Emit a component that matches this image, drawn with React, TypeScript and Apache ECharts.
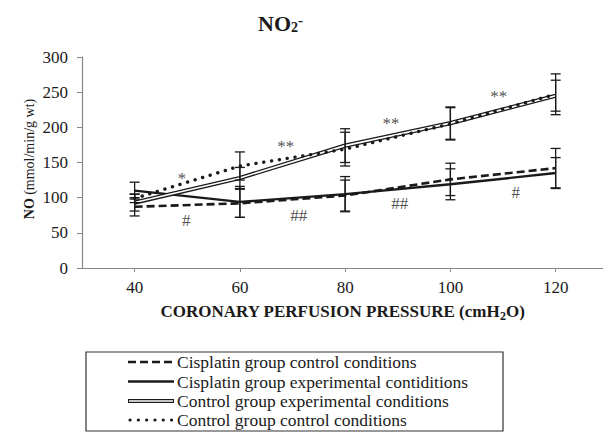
import React, { useEffect, useRef } from "react";
import * as echarts from "echarts";

const pressures = [40, 60, 80, 100, 120];
const xTickValues = [40, 60, 80, 100, 120];

const cisplatinControl = [87, 92, 103, 126, 142];
const cisplatinControlErr = [13, 20, 22, 23, 28];
const cisplatinExperimental = [110, 94, 105, 119, 135];
const cisplatinExperimentalErr = [12, 22, 25, 22, 22];
const controlExperimental = [93, 128, 174, 206, 245];
const controlExperimentalErr = [12, 15, 24, 23, 22];
const controlControl = [99, 145, 169, 205, 247];
const controlControlErr = [6, 20, 24, 23, 29];

const annotationX = [49, 68.7, 88.7, 109.2, 49.8, 71.2, 90.4, 112.4];
const annotationY = [127, 173, 206, 244, 68, 74, 92, 108];
const annotationText = ["*", "**", "**", "**", "#", "##", "##", "#"];

const legendLabels = [
  "Cisplatin group control conditions",
  "Cisplatin group experimental contiditions",
  "Control group experimental conditions",
  "Control group control conditions",
];

const FONT = "'Liberation Serif', 'Times New Roman', Times, serif";
const INK = "#1a1a1a";

function pairs(vals: number[]) {
  return pressures.map((p, i) => [p, vals[i]]);
}

function errData(vals: number[], errs: number[]) {
  return pressures.map((p, i) => [p, vals[i] - errs[i], vals[i] + errs[i]]);
}

export default function App() {
  const ref = useRef<HTMLDivElement>(null);

  useEffect(() => {
    if (!ref.current) return;
    const chart = echarts.init(ref.current, null, { renderer: "svg" });

    const errorSeries = (vals: number[], errs: number[]) => ({
      type: "custom",
      data: errData(vals, errs),
      z: 5,
      silent: true,
      renderItem: (params: any, api: any) => {
        const x = api.value(0);
        const lo = api.coord([x, api.value(1)]);
        const hi = api.coord([x, api.value(2)]);
        const w = 5;
        const st = { stroke: INK, lineWidth: 1.3 };
        return {
          type: "group",
          children: [
            { type: "line", shape: { x1: lo[0], y1: lo[1], x2: hi[0], y2: hi[1] }, style: st },
            { type: "line", shape: { x1: lo[0] - w, y1: lo[1], x2: lo[0] + w, y2: lo[1] }, style: st },
            { type: "line", shape: { x1: hi[0] - w, y1: hi[1], x2: hi[0] + w, y2: hi[1] }, style: st },
          ],
        };
      },
    });

    const lx1 = 128;
    const lx2 = 174;
    const rowY = [362, 381.5, 401, 420];
    const textX = 177;

    const legendGraphics: any[] = [
      {
        type: "rect",
        shape: { x: 86, y: 352, width: 417, height: 79 },
        style: { fill: "#fff", stroke: "#333", lineWidth: 1.2 },
      },
      {
        type: "line",
        shape: { x1: lx1, y1: rowY[0], x2: lx2, y2: rowY[0] },
        style: { stroke: INK, lineWidth: 2.5, lineDash: [8, 4] },
      },
      {
        type: "line",
        shape: { x1: lx1, y1: rowY[1], x2: lx2, y2: rowY[1] },
        style: { stroke: INK, lineWidth: 2.5 },
      },
      {
        type: "line",
        shape: { x1: lx1, y1: rowY[2], x2: lx2, y2: rowY[2] },
        style: { stroke: INK, lineWidth: 4.2 },
      },
      {
        type: "line",
        shape: { x1: lx1 + 1, y1: rowY[2], x2: lx2 - 1, y2: rowY[2] },
        style: { stroke: "#fff", lineWidth: 1.6 },
      },
      {
        type: "line",
        shape: { x1: lx1 + 2, y1: rowY[3], x2: lx2, y2: rowY[3] },
        style: { stroke: INK, lineWidth: 3.2, lineDash: [0.1, 8.2], lineCap: "round" },
      },
      ...legendLabels.map((t, i) => ({
        type: "text",
        x: textX,
        y: rowY[i],
        style: {
          text: t,
          fontFamily: FONT,
          fontSize: 17.5,
          fill: INK,
          align: "left",
          verticalAlign: "middle",
        },
      })),
      {
        type: "text",
        x: 29,
        y: 159,
        rotation: Math.PI / 2,
        style: {
          text: "{b|NO} {r|(mmol/min/g wt)}",
          align: "center",
          verticalAlign: "middle",
          rich: {
            b: { fontFamily: FONT, fontSize: 14, fontWeight: "bold", fill: INK },
            r: { fontFamily: FONT, fontSize: 14, fill: INK },
          },
        },
      },
    ];

    chart.setOption({
      animation: false,
      title: {
        text: "{a|NO}{b|2}{c|-}",
        left: 253,
        top: 7,
        textStyle: {
          rich: {
            a: { fontFamily: FONT, fontSize: 22, fontWeight: "bold", color: INK, lineHeight: 22, verticalAlign: "top" },
            b: { fontFamily: FONT, fontSize: 14, fontWeight: "bold", color: INK, lineHeight: 14, verticalAlign: "bottom", padding: [11, 0, 0, 0] },
            c: { fontFamily: FONT, fontSize: 15, fontWeight: "bold", color: INK, lineHeight: 15, verticalAlign: "top" },
          },
        },
      },
      grid: { left: 82, right: 0, top: 57, bottom: 164, containLabel: false },
      xAxis: {
        type: "value",
        min: 30,
        max: 129,
        name: "{b|CORONARY PERFUSION PRESSURE (cmH}{s|2}{b|O)}",
        nameLocation: "middle",
        nameGap: 35,
        nameTextStyle: {
          rich: {
            b: { fontFamily: FONT, fontSize: 17, fontWeight: "bold", color: INK, lineHeight: 19, verticalAlign: "top" },
            s: { fontFamily: FONT, fontSize: 12, fontWeight: "bold", color: INK, lineHeight: 12, verticalAlign: "bottom", padding: [9, 0, 0, 0] },
          },
        },
        axisLine: { lineStyle: { color: "#888", width: 1.2 } },
        axisTick: { show: true, length: 4, customValues: xTickValues, lineStyle: { color: "#888" } },
        axisLabel: { customValues: xTickValues, fontFamily: FONT, fontSize: 17, color: INK, margin: 11 },
        splitLine: { show: false },
      },
      yAxis: {
        type: "value",
        min: 0,
        max: 300,
        interval: 50,
        axisLine: { show: true, lineStyle: { color: "#888", width: 1.2 } },
        axisTick: { show: true, length: 5, lineStyle: { color: "#888" } },
        axisLabel: { fontFamily: FONT, fontSize: 17, color: INK, margin: 14 },
        splitLine: { show: false },
      },
      series: [
        {
          name: legendLabels[0],
          type: "line",
          data: pairs(cisplatinControl),
          symbol: "none",
          lineStyle: { color: INK, width: 2.6, type: [8, 4] },
          z: 3,
        },
        {
          name: legendLabels[1],
          type: "line",
          data: pairs(cisplatinExperimental),
          symbol: "none",
          lineStyle: { color: INK, width: 2.4 },
          z: 3,
        },
        {
          name: legendLabels[2],
          type: "line",
          data: pairs(controlExperimental),
          symbol: "none",
          lineStyle: { color: INK, width: 4.2 },
          z: 3,
        },
        {
          name: legendLabels[2] + " inner",
          type: "line",
          data: pairs(controlExperimental),
          symbol: "none",
          lineStyle: { color: "#fff", width: 1.6 },
          z: 4,
        },
        {
          name: legendLabels[3],
          type: "line",
          data: pairs(controlControl),
          symbol: "none",
          lineStyle: { color: INK, width: 3.4, type: [0.1, 7.8], cap: "round" },
          z: 4,
        },
        errorSeries(cisplatinControl, cisplatinControlErr),
        errorSeries(cisplatinExperimental, cisplatinExperimentalErr),
        errorSeries(controlExperimental, controlExperimentalErr),
        errorSeries(controlControl, controlControlErr),
        {
          type: "scatter",
          data: annotationX.map((x, i) => [x, annotationY[i], annotationText[i]]),
          symbolSize: 0,
          itemStyle: { color: "#333" },
          z: 6,
          silent: true,
          label: {
            show: true,
            position: "inside",
            formatter: (p: any) => p.value[2],
            fontFamily: FONT,
            fontSize: 17,
            color: "#222",
            textBorderWidth: 0,
          },
        },
      ],
      graphic: { elements: legendGraphics },
    });

    return () => chart.dispose();
  }, []);

  return <div ref={ref} style={{ width: 603, height: 432, position: "absolute", left: 0, top: 0, background: "#fff" }} />;
}
